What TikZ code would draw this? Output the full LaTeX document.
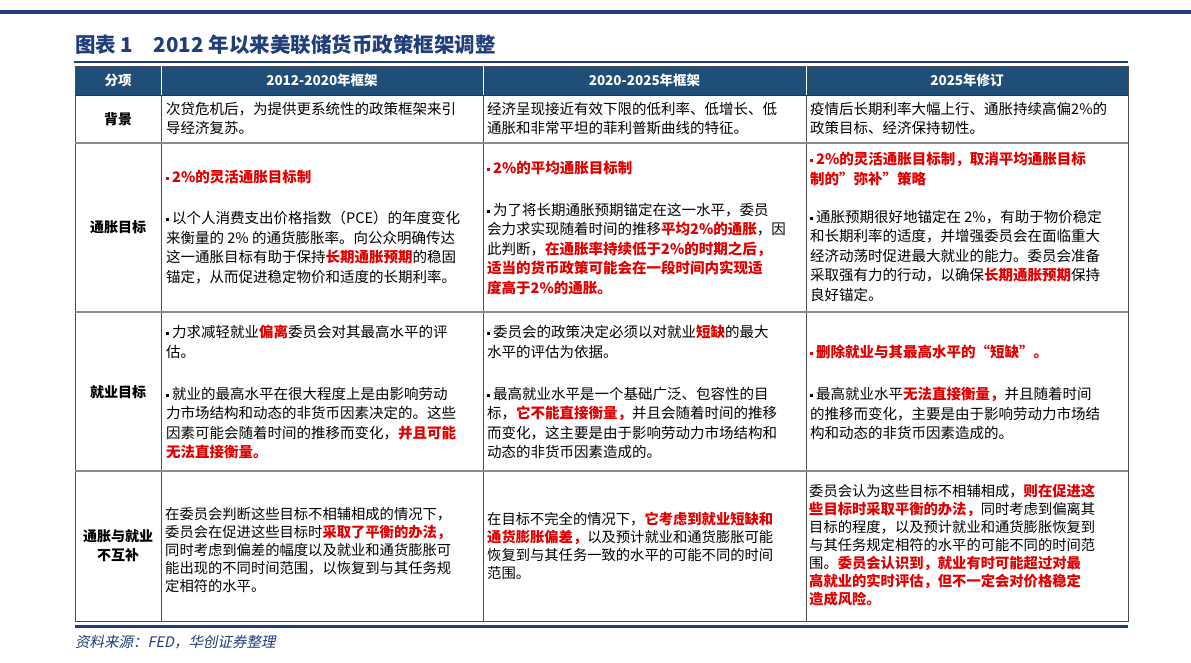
\documentclass[tikz,border=0pt]{standalone}
\usepackage{fontspec}
\setmainfont{Noto Sans CJK SC}
\newfontfamily\slfont{Noto Sans CJK SC}[FakeSlant=0.2]
\usepackage{xcolor}
\definecolor{navy}{HTML}{1F3E7A}
\definecolor{hdr}{HTML}{1F4E79}
\definecolor{hred}{HTML}{E00000}
\definecolor{sep}{HTML}{8C8C8C}
\newcommand\hl[1]{{\bfseries\color{hred}#1}}
\newcommand\bul{\rule[2.5pt]{3pt}{3pt}\hspace{3pt}}
\begin{document}
\begin{tikzpicture}[x=1pt,y=-1pt,
  txt/.style={anchor=north west,inner sep=0pt,align=left,font=\fontsize{14.5}{19.5}\selectfont},
  txs/.style={anchor=north west,inner sep=0pt,align=left,font=\fontsize{14.3}{18}\selectfont},
  lab/.style={inner sep=0pt,align=center,font=\bfseries\fontsize{14}{19}\selectfont},
  hd/.style={inner sep=0pt,text=white,font=\bfseries\fontsize{13.5}{16}\selectfont}]
\useasboundingbox (0,0) rectangle (1191,662);
% top line and title
\draw[navy,line width=4pt] (0,12) -- (1191,12);
\node[anchor=west,inner sep=0pt,text=navy,font=\bfseries\fontsize{20.5}{24}\selectfont] (title) at (75,45) {图表 1\quad 2012 年以来美联储货币政策框架调整};
\draw[navy,line width=2pt] (74,62) -- (1128,62);
% header
\fill[hdr] (75,66) rectangle (1128,95);
\node[hd] (h0) at (118,80.5) {分项};
\node[hd] (h1) at (322,80.5) {2012-2020年框架};
\node[hd] (h2) at (644.5,80.5) {2020-2025年框架};
\node[hd] (h3) at (967,80.5) {2025年修订};
% grid
\draw[black!70,line width=0.6pt] (75,66) rectangle (1128,621);
\foreach \x in {161,483,806} \draw[black!70,line width=0.6pt] (\x,66) -- (\x,621);
\draw[white,line width=0.6pt] (161,66) -- (161,95) (483,66) -- (483,95) (806,66) -- (806,95);
\draw[black!80,line width=1pt] (75,95) -- (1128,95);
\foreach \y in {143,312,471} \draw[sep,line width=1.8pt] (75,\y) -- (1128,\y);
\draw[navy,line width=3pt] (75,626) -- (1128,626);
% row labels
\node[lab] (l1) at (118,119) {背景};
\node[lab] (l2) at (118,227) {通胀目标};
\node[lab] (l3) at (118,392) {就业目标};
\node[lab] (l4) at (118,546) {通胀与就业\\不互补};
% row 1
\node[txt] (a1) at (166,102) {次贷危机后，为提供更系统性的政策框架来引\\导经济复苏。};
\node[txt] (b1) at (487,102) {经济呈现接近有效下限的低利率、低增长、低\\通胀和非常平坦的菲利普斯曲线的特征。};
\node[txt] (c1) at (810,102) {疫情后长期利率大幅上行、通胀持续高偏2\%的\\政策目标、经济保持韧性。};
% row 2
\node[txt] (a2h) at (166,170) {\hl{\bul 2\%的灵活通胀目标制}};
\node[txt] (a2) at (166,211) {\bul 以个人消费支出价格指数（PCE）的年度变化\\来衡量的 2\% 的通货膨胀率。向公众明确传达\\这一通胀目标有助于保持\hl{长期通胀预期}的稳固\\锚定，从而促进稳定物价和适度的长期利率。};
\node[txt] (b2h) at (487,161) {\hl{\bul 2\%的平均通胀目标制}};
\node[txt] (b2) at (487,203) {\bul 为了将长期通胀预期锚定在这一水平，委员\\会力求实现随着时间的推移\hl{平均2\%的通胀}，因\\此判断，\hl{在通胀率持续低于2\%的时期之后，}\\\hl{适当的货币政策可能会在一段时间内实现适}\\\hl{度高于2\%的通胀。}};
\node[txt] (c2h) at (810,152) {\hl{\bul 2\%的灵活通胀目标制，取消平均通胀目标}\\\hl{制的\symbol{34}弥补\symbol{34}策略}};
\node[txt] (c2) at (810,210) {\bul 通胀预期很好地锚定在 2\%，有助于物价稳定\\和长期利率的适度，并增强委员会在面临重大\\经济动荡时促进最大就业的能力。委员会准备\\采取强有力的行动，以确保\hl{长期通胀预期}保持\\良好锚定。};
% row 3
\node[txt] (a3a) at (166,325) {\bul 力求减轻就业\hl{偏离}委员会对其最高水平的评\\估。};
\node[txt] (a3b) at (166,387) {\bul 就业的最高水平在很大程度上是由影响劳动\\力市场结构和动态的非货币因素决定的。这些\\因素可能会随着时间的推移而变化，\hl{并且可能}\\\hl{无法直接衡量。}};
\node[txt] (b3a) at (487,325) {\bul 委员会的政策决定必须以对就业\hl{短缺}的最大\\水平的评估为依据。};
\node[txt] (b3b) at (487,387) {\bul 最高就业水平是一个基础广泛、包容性的目\\标，\hl{它不能直接衡量，}并且会随着时间的推移\\而变化，这主要是由于影响劳动力市场结构和\\动态的非货币因素造成的。};
\node[txt] (c3a) at (810,345) {\hl{\bul 删除就业与其最高水平的“短缺”。}};
\node[txt] (c3b) at (810,387) {\bul 最高就业水平\hl{无法直接衡量，}并且随着时间\\的推移而变化，主要是由于影响劳动力市场结\\构和动态的非货币因素造成的。};
% row 4
\node[txs] (a4) at (165,507) {在委员会判断这些目标不相辅相成的情况下，\\委员会在促进这些目标时\hl{采取了平衡的办法，}\\同时考虑到偏差的幅度以及就业和通货膨胀可\\能出现的不同时间范围，以恢复到与其任务规\\定相符的水平。};
\node[txs] (b4) at (487,512) {在目标不完全的情况下，\hl{它考虑到就业短缺和}\\\hl{通货膨胀偏差，}以及预计就业和通货膨胀可能\\恢复到与其任务一致的水平的可能不同的时间\\范围。};
\node[txs] (c4) at (809,484) {委员会认为这些目标不相辅相成，\hl{则在促进这}\\\hl{些目标时采取平衡的办法，}同时考虑到偏离其\\目标的程度，以及预计就业和通货膨胀恢复到\\与其任务规定相符的水平的可能不同的时间范\\围。\hl{委员会认识到，就业有时可能超过对最}\\\hl{高就业的实时评估，但不一定会对价格稳定}\\\hl{造成风险。}};
% source
\node[anchor=west,inner sep=0pt,text=navy,font=\slfont\fontsize{14.5}{16}\selectfont] (src) at (75,642) {资料来源：FED，华创证券整理};
\end{tikzpicture}
\end{document}
